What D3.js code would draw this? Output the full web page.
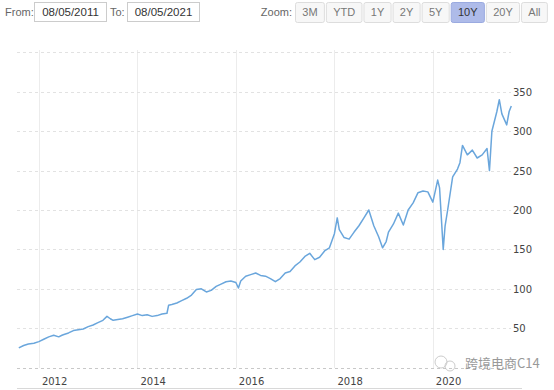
<!DOCTYPE html>
<html>
<head>
<meta charset="utf-8">
<script src="https://cdn.jsdelivr.net/npm/d3@7"></script>
<style>
  body { margin: 0; background: #fff; }
  svg { display: block; font-family: "Liberation Sans", Arial, sans-serif; }
</style>
</head>
<body>
<svg id="chart" width="554" height="390"></svg>
<script>
// date range shown in the inputs
var fromDate = "08/05/2011",
    toDate   = "08/05/2021";

var zoomButtons = ["3M", "YTD", "1Y", "2Y", "5Y", "10Y", "20Y", "All"],
    activeButton = "10Y";

var yTicks = [0, 50, 100, 150, 200, 250, 300, 350, 400],
    yLabels = [50, 100, 150, 200, 250, 300, 350],
    xTickYears = [2012, 2014, 2016, 2018, 2020];

// price readings
var dates = [
  "2011-08-05", "2011-09-10", "2011-10-15", "2011-11-25", "2012-01-01", "2012-02-06", "2012-03-14",
  "2012-04-20", "2012-05-27", "2012-06-20", "2012-07-05", "2012-08-08", "2012-09-13", "2012-10-20",
  "2012-11-25", "2013-01-01", "2013-02-06", "2013-03-14", "2013-04-20", "2013-05-20", "2013-06-14",
  "2013-07-05", "2013-08-08", "2013-09-13", "2013-10-20", "2013-11-25", "2014-01-01", "2014-02-06",
  "2014-03-14", "2014-04-20", "2014-05-27", "2014-07-02", "2014-08-08", "2014-08-20", "2014-09-13",
  "2014-10-20", "2014-11-25", "2015-01-01", "2015-02-06", "2015-03-14", "2015-04-20", "2015-05-27",
  "2015-07-02", "2015-08-08", "2015-09-13", "2015-10-20", "2015-11-25", "2016-01-01", "2016-01-20",
  "2016-02-06", "2016-03-14", "2016-04-20", "2016-05-27", "2016-07-02", "2016-08-08", "2016-09-13",
  "2016-10-20", "2016-11-25", "2017-01-01", "2017-02-06", "2017-03-14", "2017-04-20", "2017-05-27",
  "2017-07-02", "2017-08-08", "2017-09-13", "2017-10-20", "2017-11-25", "2018-01-01", "2018-01-22",
  "2018-02-06", "2018-03-14", "2018-04-20", "2018-05-27", "2018-07-02", "2018-08-08", "2018-09-13",
  "2018-10-20", "2018-11-25", "2018-12-24", "2019-01-20", "2019-02-06", "2019-03-14", "2019-04-20",
  "2019-05-27", "2019-07-02", "2019-08-08", "2019-09-13", "2019-10-20", "2019-11-25", "2020-01-01",
  "2020-02-06", "2020-02-20", "2020-03-18", "2020-04-01", "2020-04-20", "2020-05-27", "2020-07-02",
  "2020-07-20", "2020-08-08", "2020-09-13", "2020-10-20", "2020-11-25", "2021-01-01", "2021-02-06",
  "2021-02-24", "2021-03-14", "2021-04-20", "2021-05-08", "2021-05-27", "2021-07-02", "2021-07-20",
  "2021-08-05"
];
var prices = [
  25, 28, 30, 31, 33, 36, 39,
  41, 39, 41, 42, 44, 47, 48,
  49, 52, 54, 57, 60, 65, 62,
  60, 61, 62, 64, 66, 68, 66,
  67, 65, 66, 68, 69, 79, 80,
  82, 85, 88, 92, 99, 100, 96,
  98, 103, 106, 109, 110, 108, 101,
  110, 116, 118, 120, 117, 116, 113,
  109, 113, 120, 122, 129, 134, 141,
  145, 137, 140, 148, 152, 170, 190,
  175, 165, 163, 172, 180, 190, 200,
  180, 166, 152, 160, 172, 182, 196,
  181, 200, 209, 222, 224, 223, 210,
  238, 228, 150, 180, 200, 242, 252,
  260, 282, 270, 276, 266, 270, 278,
  250, 300, 325, 340, 322, 308, 325,
  332
];

var parse = d3.timeParse("%Y-%m-%d");
var series = dates.map(function(d, i) { return { date: parse(d), value: prices[i] }; });

var svg = d3.select("#chart");

// ---- range selector / inputs ----
var header = svg.append("g").attr("class", "range");
header.append("text").attr("x", 5).attr("y", 16).attr("font-size", 11).attr("fill", "#666").text("From:");
header.append("rect").attr("x", 34.5).attr("y", 2.5).attr("width", 72).attr("height", 19)
   .attr("fill", "#fff").attr("stroke", "#ccc");
header.append("text").attr("x", 70.5).attr("y", 16).attr("font-size", 11.5).attr("fill", "#333")
   .attr("text-anchor", "middle").text(fromDate);
header.append("text").attr("x", 110).attr("y", 16).attr("font-size", 11).attr("fill", "#666").text("To:");
header.append("rect").attr("x", 127.5).attr("y", 2.5).attr("width", 72).attr("height", 19)
   .attr("fill", "#fff").attr("stroke", "#ccc");
header.append("text").attr("x", 163.5).attr("y", 16).attr("font-size", 11.5).attr("fill", "#333")
   .attr("text-anchor", "middle").text(toDate);
header.append("text").attr("x", 292).attr("y", 16).attr("font-size", 11).attr("fill", "#666")
   .attr("text-anchor", "end").text("Zoom:");

var bx = 295.5;
zoomButtons.forEach(function(b) {
    var g = header.append("g");
    var r = g.append("rect").attr("y", 2.5).attr("height", 20).attr("rx", 2);
    var t = g.append("text").attr("y", 16).attr("font-size", 11).attr("text-anchor", "middle")
             .attr("fill", b === activeButton ? "#333" : "#777").text(b);
    var w = t.node().getComputedTextLength() + 13.6;
    r.attr("x", bx).attr("width", w)
     .attr("fill", b === activeButton ? "#aebbe9" : "#f7f7f7")
     .attr("stroke", b === activeButton ? "#9aaae0" : "#ddd");
    t.attr("x", bx + w / 2);
    bx += w + 2;
});

// ---- scales ----
var x = d3.scaleTime()
    .domain([parse("2011-08-05"), parse("2021-08-05")])
    .range([18.8, 511.3]);
var y = d3.scaleLinear().domain([0, 400]).range([367.6, 52.4]);

// ---- grid ----
var grid = svg.append("g").attr("class", "grid");
grid.selectAll("line.v").data(xTickYears).enter().append("line")
    .attr("class", "v")
    .attr("x1", function(d) { return Math.round(x(new Date(d, 0, 1))) + 0.5; })
    .attr("x2", function(d) { return Math.round(x(new Date(d, 0, 1))) + 0.5; })
    .attr("y1", 50).attr("y2", 368)
    .attr("stroke", "#ececec");
grid.selectAll("line.h").data(yTicks).enter().append("line")
    .attr("class", "h")
    .attr("x1", 17).attr("x2", 511)
    .attr("y1", function(d) { return Math.round(y(d)) + 0.5; })
    .attr("y2", function(d) { return Math.round(y(d)) + 0.5; })
    .attr("stroke", function(d) { return d === 0 ? "#c8c8c8" : "#e2e2e2"; })
    .attr("stroke-dasharray", "3,3");

// ---- axes labels ----
svg.append("g").selectAll("text").data(yLabels).enter().append("text")
    .attr("x", 513).attr("y", function(d) { return y(d) + 4; })
    .attr("font-family", "DejaVu Sans, Verdana, sans-serif")
    .attr("font-size", 10).attr("fill", "#444")
    .text(function(d) { return d; });

svg.append("g").selectAll("text").data(xTickYears).enter().append("text")
    .attr("x", function(d) { return x(new Date(d, 0, 1)) + 3; })
    .attr("y", 385)
    .attr("font-family", "DejaVu Sans, Verdana, sans-serif")
    .attr("font-size", 10).attr("fill", "#444")
    .text(function(d) { return d; });

svg.append("line").attr("x1", 17).attr("x2", 522).attr("y1", 388.5).attr("y2", 388.5)
   .attr("stroke", "#d8d8d8");

// ---- price line ----
var line = d3.line()
    .x(function(d) { return x(d.date); })
    .y(function(d) { return y(d.value); });

svg.append("path").datum(series)
    .attr("d", line)
    .attr("fill", "none")
    .attr("stroke", "#6aa6dc")
    .attr("stroke-width", 1.5)
    .attr("stroke-linejoin", "round");

// ---- watermark ----
var wm = svg.append("g").attr("opacity", 0.75);
wm.append("circle").attr("cx", 441).attr("cy", 362).attr("r", 6).attr("fill", "none").attr("stroke", "#bbb");
wm.append("circle").attr("cx", 450).attr("cy", 366).attr("r", 5).attr("fill", "none").attr("stroke", "#bbb");
wm.append("text").attr("x", 465).attr("y", 368)
   .attr("font-family", "Noto Sans CJK SC, sans-serif").attr("font-size", 13).attr("fill", "#777")
   .text("跨境电商C14");
</script>
</body>
</html>
